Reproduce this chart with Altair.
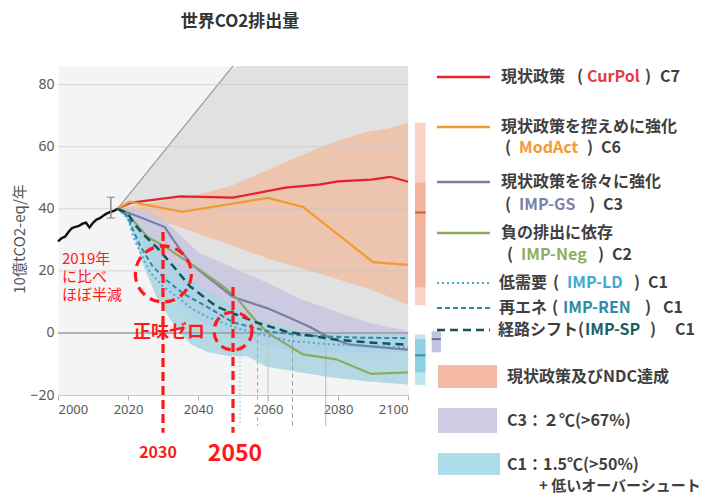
import altair as alt
import pandas as pd

JP = "Noto Sans CJK JP"
LAT = "Noto Sans"

# ---------------- data ----------------
hist_years = list(range(2000, 2018))
hist_vals = [29.5, 30.5, 31.0, 32.5, 33.8, 34.2, 34.5, 35.2, 35.5, 34.0, 35.5, 36.5, 37.0, 37.8, 38.5, 39.0, 39.3, 40.0]

err_year = [2015.1]
err_lo = [37.0]
err_hi = [43.7]

curpol_years = [2017, 2021, 2035, 2050, 2065, 2074.5, 2080, 2089.5, 2095, 2100]
curpol_vals = [40, 42, 44, 43.6, 46.8, 47.8, 48.8, 49.4, 50.3, 48.7]

modact_years = [2017, 2020.5, 2035.5, 2060, 2070, 2090, 2100]
modact_vals = [40, 42.3, 39, 43.5, 40.6, 22.8, 21.9]

gs_years = [2017, 2023.5, 2030.5, 2033, 2037.7, 2050, 2059.7, 2066.3, 2072, 2077.7, 2083.4, 2100]
gs_vals = [40, 37.3, 34.1, 29.9, 22.5, 11.6, 8, 4.8, 1.9, -1.6, -3.8, -5.4]

neg_years = [2017, 2020.5, 2025.5, 2031, 2040.5, 2047, 2051, 2057, 2060.5, 2070, 2079.5, 2089.5, 2100]
neg_vals = [40, 37.5, 31, 27.5, 20.3, 15.2, 11.3, 3.2, -0.4, -6.9, -8.5, -13.2, -12.7]

ld_years = [2017, 2020, 2021.5, 2023.5, 2026.3, 2030, 2035, 2038.5, 2042.5, 2050, 2055, 2066, 2078, 2100]
ld_vals = [40, 37, 31, 26, 19.5, 15, 10.8, 7.6, 5.3, 2, 0.3, -2.5, -3.7, -4.6]

ren_years = [2017, 2020, 2021.5, 2023.5, 2027, 2031, 2036, 2042.5, 2050, 2060, 2070, 2085, 2100]
ren_vals = [40, 37.5, 33, 28, 21.5, 17, 12.5, 8.5, 3.4, 0.5, -0.8, -1.5, -1.7]

sp_years = [2017, 2020, 2021.5, 2024.4, 2028.3, 2033, 2037.7, 2045.3, 2050, 2056.7, 2065, 2078, 2088, 2100]
sp_vals = [40, 38.5, 35.5, 31.7, 27.5, 21.4, 15, 8.5, 6.3, 3.4, 0.5, -2, -3, -3.8]

# ranges (bands)
c1_years = [2017, 2019, 2021.5, 2024.5, 2028, 2032, 2035, 2038, 2043, 2049, 2054, 2059.5, 2069, 2078, 2088, 2100]
c1_lo = [40, 38, 32, 21.5, 12, 4.5, 0, -3.7, -6.2, -7.5, -7.5, -10.8, -12.7, -14.3, -15.6, -16.6]
c1_hi = [40, 39.3, 37, 33.2, 28.6, 23.8, 20.5, 17.5, 13.4, 9.2, 6.5, 3.7, 0.7, 0, -0.3, -0.5]
all_hi = [40, 42.8, 46.3, 50.5, 55.3, 60.9, 65.1, 69.3, 76.2, 84.6, 87.4, 87.4, 87.4, 87.4, 87.4, 87.4]

diag_years = [2017, 2051]
diag_vals = [40, 87.4]

ndc_years = [2017, 2025, 2030, 2040, 2050, 2060, 2069, 2078, 2088, 2095, 2100]
ndc_lo = [40, 38.5, 36, 32, 28, 24, 21, 17.9, 14.5, 11.5, 9]
ndc_hi = [40, 41.5, 42.5, 44.5, 47.6, 52.5, 57, 61.2, 64.7, 66, 67.7]

c3_years = [2017, 2021, 2025, 2030, 2035, 2040, 2050, 2060, 2069, 2078, 2088, 2100]
c3_lo = [40, 36, 27, 17, 9, 4, -1.5, -4.5, -6, -6.5, -6.5, -6.2]
c3_hi = [40, 39.7, 39, 36.5, 31.5, 26, 21, 16, 11, 7.5, 3.5, 0.5]

# 2100 ranges shown beside the plot
bar_names = ["ndc", "c1", "c3"]
bar_x1 = [2102, 2102, 2106.8]
bar_x2 = [2105, 2105, 2109.4]
bar_lo = [8.9, -16.8, -6.2]
bar_hi = [67.7, -0.5, 0.5]
bar_iqr_lo = [14.7, -12.7, -6.2]
bar_iqr_hi = [48.4, -2.0, 0.5]
bar_med = [38.8, -7.2, -2.0]

# net-zero year markers
nz_years = [2052, 2057, 2060, 2067, 2076.5]
nz_top = [0, 0, 0, 0, -1]
nz_bot = [-30, -30, -22.5, -30, -30]

grid_vals = [20, 40, 60, 80]

# annotations
mark_years = [2030, 2050]
mark_top = [32.5, 14.8]
mark_bot = [-32.2, -32.2]
circle_years = [2030.1, 2050]
circle_vals = [19.0, 0.6]
circle_diam = [56, 38]

# ---------------- helpers ----------------
X0, Y0 = 58, 66  # page position of the plot origin (for text placement)
ONE = pd.DataFrame({"k": [0]})

xscale = alt.Scale(domain=[2000, 2100], nice=False, zero=False)
yscale = alt.Scale(domain=[-20, 86], nice=False, zero=False)
xaxis = alt.Axis(values=[2000, 2020, 2040, 2060, 2080, 2100], format="d", labelFlush=True, grid=False,
                 domainColor="#c8c8c8", tickColor="#b4b4b4", tickSize=5, labelColor="#595959",
                 labelFontSize=13, labelFont=LAT, labelPadding=3, title=None)
yaxis = alt.Axis(values=[-20, 0, 20, 40, 60, 80], grid=False, domain=False, ticks=False,
                 labelColor="#595959", labelFontSize=14, labelFont=LAT, labelPadding=4, title=None)


def X(f):
    return alt.X(f, type="quantitative", scale=xscale, axis=xaxis)


def Y(f):
    return alt.Y(f, type="quantitative", scale=yscale, axis=yaxis)


def line_df(years, vals):
    return pd.DataFrame({"year": years, "v": vals})


def band(years, lo, hi, color, opacity=1.0, clip=False):
    df = pd.DataFrame({"year": years, "lo": lo, "hi": hi})
    return alt.Chart(df).mark_area(color=color, opacity=opacity, clip=clip).encode(
        x=X("year"), y=Y("lo"), y2="hi")


def sline(years, vals, color, width=2.0, dash=None, clip=False):
    kw = dict(color=color, strokeWidth=width, clip=clip)
    if dash:
        kw["strokeDash"] = dash
    return alt.Chart(line_df(years, vals)).mark_line(**kw).encode(x=X("year"), y=Y("v"))


def txt(s, px, py, size=16, color="#3f3f3f", weight="bold", align="left", font=JP, angle=0):
    kw = dict(text=s, align=align, baseline="middle", fontSize=size, color=color,
              fontWeight=weight, font=font)
    if angle:
        kw["angle"] = angle
    return alt.Chart(ONE).mark_text(**kw).encode(x=alt.value(px - X0), y=alt.value(py - Y0))


def lgline(py, color, width=2.0, dash=None):
    kw = dict(color=color, strokeWidth=width)
    if dash:
        kw["strokeDash"] = dash
    return alt.Chart(ONE).mark_rule(**kw).encode(
        x=alt.value(437 - X0), x2=alt.value(490 - X0), y=alt.value(py - Y0))


def lgrect(x1, x2, y1, y2, color):
    return alt.Chart(ONE).mark_rect(color=color).encode(
        x=alt.value(x1 - X0), x2=alt.value(x2 - X0), y=alt.value(y1 - Y0), y2=alt.value(y2 - Y0))


RED = "#e5212b"
ORANGE = "#f39a2e"
GSC = "#7a7ea6"
NEGC = "#8cab5f"
LDC = "#43acd2"
RENC = "#2b8ba3"
SPC = "#17525b"
ANN = "#ff1a1a"
DK = "#3f3f3f"

layers = []

# bands
layers.append(band(c1_years, c1_lo, all_hi, "#e1e1e1", clip=True))
layers.append(sline(diag_years, diag_vals, "#9a9a9a", width=1.2, clip=True))
layers.append(band(ndc_years, ndc_lo, ndc_hi, "#edc4ae"))
layers.append(alt.Chart(pd.DataFrame({"v": grid_vals})).mark_rule(color="#c8c8c8", strokeWidth=1, opacity=0.7)
              .encode(y=Y("v")))
layers.append(band(c3_years, c3_lo, c3_hi, "#c3c1e0", opacity=0.75))
layers.append(band(c1_years, c1_lo, c1_hi, "#a3d5e6", opacity=0.7))
layers.append(alt.Chart(pd.DataFrame({"v": [0]})).mark_rule(color="#9a9a9a", strokeWidth=2, opacity=0.75)
              .encode(y=Y("v")))

# net-zero year markers
nz_styles = [("#8fd0e6", [2, 2]), ("#a8a8a8", [4, 3]), ("#c2cbb4", None), ("#a0a0a0", [5, 3]), ("#b6b6b6", None)]
for i in range(len(nz_years)):
    c, d = nz_styles[i]
    kw = dict(color=c, strokeWidth=1)
    if d:
        kw["strokeDash"] = d
    df = pd.DataFrame({"year": [nz_years[i]], "t": [nz_top[i]], "b": [nz_bot[i]]})
    layers.append(alt.Chart(df).mark_rule(**kw).encode(x=X("year"), y=Y("t"), y2="b"))

# history
layers.append(sline(hist_years, hist_vals, "#111111", width=2.4))
err_df = pd.DataFrame({"year": err_year, "lo": err_lo, "hi": err_hi})
layers.append(alt.Chart(err_df).mark_rule(color="#8a8a8a", strokeWidth=1.5).encode(x=X("year"), y=Y("lo"), y2="hi"))
layers.append(alt.Chart(err_df).mark_tick(color="#8a8a8a", thickness=1.5, size=8, orient="horizontal")
              .encode(x=X("year"), y=Y("lo")))
layers.append(alt.Chart(err_df).mark_tick(color="#8a8a8a", thickness=1.5, size=8, orient="horizontal")
              .encode(x=X("year"), y=Y("hi")))

# scenario lines
layers.append(sline(curpol_years, curpol_vals, RED, 2.2))
layers.append(sline(modact_years, modact_vals, ORANGE, 2.2))
layers.append(sline(gs_years, gs_vals, GSC, 2.2))
layers.append(sline(neg_years, neg_vals, NEGC, 2.2))
layers.append(sline(ld_years, ld_vals, LDC, 2.0, [2, 3]))
layers.append(sline(ren_years, ren_vals, RENC, 2.0, [5, 3]))
layers.append(sline(sp_years, sp_vals, SPC, 2.5, [8, 5]))

# 2100 range bars
bars = pd.DataFrame({"name": bar_names, "x1": bar_x1, "x2": bar_x2, "lo": bar_lo, "hi": bar_hi,
                     "qlo": bar_iqr_lo, "qhi": bar_iqr_hi, "med": bar_med})
light = {"ndc": "#f8d3c4", "c1": "#bfe5f0", "c3": "#c4c3e2"}
dark = {"ndc": "#f4b39b", "c1": "#8fd0e4", "c3": "#c4c3e2"}
medc = {"ndc": "#c0653f", "c1": "#3a93b5", "c3": "#6d6d9c"}
for i, n in enumerate(bar_names):
    d = bars.iloc[[i]]
    layers.append(alt.Chart(d).mark_rect(color=light[n]).encode(x=X("x1"), x2="x2", y=Y("lo"), y2="hi"))
    layers.append(alt.Chart(d).mark_rect(color=dark[n]).encode(x=X("x1"), x2="x2", y=Y("qlo"), y2="qhi"))
    layers.append(alt.Chart(d).mark_rule(color=medc[n], strokeWidth=2).encode(x=X("x1"), x2="x2", y=Y("med")))

# red annotations
ann = pd.DataFrame({"year": mark_years, "t": mark_top, "b": mark_bot})
layers.append(alt.Chart(ann).mark_rule(color=ANN, strokeWidth=3.2, strokeDash=[9, 5]).encode(
    x=X("year"), y=Y("t"), y2="b"))
for i in range(2):
    cd = pd.DataFrame({"year": [circle_years[i]], "v": [circle_vals[i]]})
    layers.append(alt.Chart(cd).mark_point(shape="circle", filled=False, color=ANN, strokeWidth=3.2,
                                           strokeDash=[10, 6], size=circle_diam[i] ** 2, opacity=1)
                  .encode(x=X("year"), y=Y("v")))

layers.append(txt("2019年", 62, 259, size=15, color=ANN, weight="normal"))
layers.append(txt("に比べ", 62, 277, size=15, color=ANN, weight="normal"))
layers.append(txt("ほぼ半減", 62, 295, size=15, color=ANN, weight="normal"))
layers.append(txt("正味ゼロ", 133, 333, size=18, color=ANN, weight="bold"))
layers.append(txt("2030", 158, 453, size=16, color=ANN, weight="bold", align="center"))
layers.append(txt("2050", 235, 454, size=23, color=ANN, weight="bold", align="center"))

# titles
layers.append(txt("世界CO2排出量", 240, 22, size=17, color="#333333", weight="bold", align="center"))
layers.append(txt("10億tCO2-eq/年", 20, 239, size=15, color="#555555", weight="normal", align="center", angle=270))

# legend: lines
layers.append(lgline(77, RED, 2.5))
layers.append(lgline(127, ORANGE, 2.5))
layers.append(lgline(182, GSC, 2.5))
layers.append(lgline(233, NEGC, 2.5))
layers.append(lgline(283, LDC, 2.0, [2, 3]))
layers.append(lgline(308, RENC, 2.0, [5, 3]))
layers.append(lgline(330, SPC, 2.5, [8, 5]))

# legend: texts (head, "(" x, coloured name, name x, ")" x, tail, tail x)
rows = [
    ("現状政策", 501, 77, 577, "CurPol", "#e63a3e", 587, 645, "C7", 660),
    (None, 0, 148, 505, "ModAct", "#f39a33", 519, 587, "C6", 601),
    (None, 0, 205, 505, "IMP-GS", "#7b82aa", 519, 589, "C3", 603),
    (None, 0, 255, 507, "IMP-Neg", "#8fae62", 521, 598, "C2", 612),
    ("低需要", 499, 283, 553, "IMP-LD", "#41aad2", 567, 634, "C1", 648),
    ("再エネ", 499, 308, 552, "IMP-REN", "#2e8ca6", 563, 645, "C1", 663),
    ("経路シフト", 498, 330, 578, "IMP-SP", "#195f66", 585, 650, "C1", 675),
]
for head, hx, py, lpx, name, ncol, nx, rpx, tail, tx in rows:
    if head:
        layers.append(txt(head, hx, py, size=16, color=DK))
    layers.append(txt("(", lpx, py, size=16, color=DK))
    layers.append(txt(name, nx, py, size=16, color=ncol))
    layers.append(txt(")", rpx, py, size=16, color=DK))
    layers.append(txt(tail, tx, py, size=16, color=DK))

layers.append(txt("現状政策を控えめに強化", 501, 127, size=16, color=DK))
layers.append(txt("現状政策を徐々に強化", 501, 182, size=16, color=DK))
layers.append(txt("負の排出に依存", 501, 233, size=16, color=DK))

layers.append(txt("現状政策及びNDC達成", 507, 377, size=16, color=DK))
layers.append(txt("C3：２℃(>67%)", 507, 421, size=16, color=DK))
layers.append(txt("C1：1.5℃(>50%)", 507, 465, size=16, color=DK))
layers.append(txt("+ 低いオーバーシュート", 539, 486, size=15, color=DK))

layers.append(lgrect(438, 497, 365, 388, "#f4b9a3"))
layers.append(lgrect(438, 497, 408, 433, "#cdcce2"))
layers.append(lgrect(438, 500, 453, 475, "#acdde9"))

chart = alt.layer(*layers).properties(
    width=350, height=329,
    padding={"left": 50, "top": 58, "right": 296, "bottom": 100},
    autosize=alt.AutoSizeParams(type="none"),
    background="white",
).configure_view(fill="#f4f4f4", stroke="transparent")

chart.save("out.html", embed_options={"renderer": "svg", "actions": False})
